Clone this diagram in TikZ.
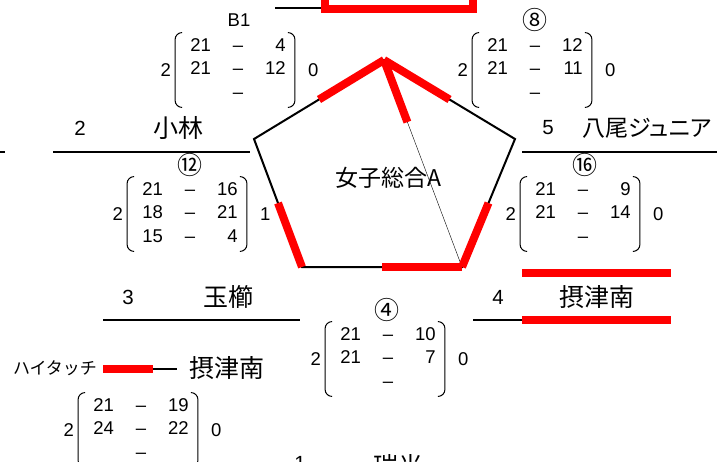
\documentclass[tikz,border=0pt]{standalone}
\usepackage{fontspec}
\setmainfont{Liberation Sans}
\newfontfamily\jp{Noto Sans CJK JP}
\newfontfamily\jpp[RawFeature=+palt]{Noto Sans CJK JP}
\usetikzlibrary{positioning,calc}

\newcommand\scorefont{\fontsize{18.5}{23.5}\selectfont}
\newcommand\games[6]{%
  \begin{tabular}{@{\hspace{15pt}}c@{\hspace{22pt}}c@{\hspace{22pt}}r@{\hspace{9pt}}}
    #1 & – & #2\\ #3 & – & #4\\ #5 & – & #6
  \end{tabular}}
\newcommand\parens[1]{%
  \draw[paren] ([xshift=7pt]#1.north west) -- (#1.north west) -- (#1.south west) -- ([xshift=7pt]#1.south west)
               ([xshift=-7pt]#1.north east) -- (#1.north east) -- (#1.south east) -- ([xshift=-7pt]#1.south east);}

\tikzset{
  every node/.style={inner sep=0pt},
  games/.style={inner xsep=0pt, inner ysep=2pt, font=\scorefont},
  side/.style={font=\scorefont},
  tag/.style={font=\jp\fontsize{25}{28}\selectfont},
  num/.style={font=\fontsize{20.5}{24}\selectfont},
  team/.style={font=\jp\fontsize{25}{30}\selectfont},
  paren/.style={line width=1pt, rounded corners=7pt},
  line/.style={line width=2.6pt},
  edge/.style={line width=2pt},
  win/.style={red, line width=8pt},
}

\begin{document}
\begin{tikzpicture}[x=1pt, y=-1pt]
    \useasboundingbox (0,0) rectangle (717,461);
%    \draw[help lines,step=50] (0,0) grid (717,461);
    % pentagon
    \coordinate (v1) at (384,60);
    \coordinate (v2) at (515,139);
    \coordinate (v3) at (462,267);
    \coordinate (v4) at (302,267);
    \coordinate (v5) at (254,139);
    \draw[edge] (v1) -- (v2) -- (v3) -- (v4) -- (v5) -- cycle;
    \draw[thin] (v1) -- (v3);
    \draw[win] (v1) -- ($(v1)!.5!(v5)$);
    \draw[win] (v1) -- ($(v1)!.5!(v2)$);
    \draw[win] (v1) -- ($(v1)!.3!(v3)$);
    \draw[win] ($(v5)!.5!(v4)$) -- (v4);
    \draw[win] ($(v4)!.5!(v3)$) -- (v3);
    \draw[win] (v3) -- ($(v3)!.5!(v2)$);
    \node(title) at (388,178) {\jp\fontsize{23}{26}\selectfont 女子総合A};

    % teams
    \draw[line] (275,8) -- (325,8);
    \draw[win]  (325,-20) -- (325,9) -- (473,9) -- (473,-20);
    \draw[line] (-5,152) -- (5,152);
    \node[num]  (n2) at (80,128)  {2};
    \node[team] (t2) at (178,128) {小林};
    \draw[line] (53,152) -- (250,152);
    \node[num]  (n5) at (548,128) {5};
    \node[team] (t5) at (647,128) {\jpp\fontsize{23}{28}\selectfont 八尾ジュニア};
    \draw[line] (522,152) -- (720,152);
    \node[num]  (n3) at (128,297) {3};
    \node[team] (t3) at (228,297) {玉櫛};
    \draw[line] (103,320) -- (300,320);
    \node[num]  (n4) at (498,297) {4};
    \node[team] (t4) at (597,297) {摂津南};
    \draw[line] (473,320) -- (522,320);
    \draw[win]  (522,320) -- (671,320);
    \draw[win]  (522,273) -- (671,273);
    \node[num]  (n1) at (300,463) {1};
    \node[team] (t1) at (398,466) {瑞光};

    % legend
    \node(legend) at (55,368) {\jp\fontsize{17}{20}\selectfont ハイタッチ};
    \draw[win]  (103,369) -- (153,369);
    \draw[line] (153,369) -- (177,369);
    \node[team] (legwin) at (227,368) {摂津南};

    % scores
    \node[games] (b1) at (235,70) {\games{21}{4}{21}{12}{}{}};
    \node[side,left=4pt of b1]   (b1w) {2};
    \node[side,right=13pt of b1] (b1l) {0};
    \node (b1t) at (239,20) {\scorefont B1};
    \parens{b1}
    \node[games] (g8) at (532,70) {\games{21}{12}{21}{11}{}{}};
    \node[side,left=4pt of g8]   (g8w) {2};
    \node[side,right=13pt of g8] (g8l) {0};
    \node[tag] (g8t) at (535,20) {⑧};
    \parens{g8}
    \node[games] (g12) at (187,214) {\games{21}{16}{18}{21}{15}{4}};
    \node[side,left=4pt of g12]   (g12w) {2};
    \node[side,right=13pt of g12] (g12l) {1};
    \node[tag] (g12t) at (190,165) {⑫};
    \parens{g12}
    \node[games] (g16) at (580,214) {\games{21}{9}{21}{14}{}{}};
    \node[side,left=4pt of g16]   (g16w) {2};
    \node[side,right=13pt of g16] (g16l) {0};
    \node[tag] (g16t) at (585,165) {⑯};
    \parens{g16}
    \node[games] (g4) at (385,359) {\games{21}{10}{21}{7}{}{}};
    \node[side,left=4pt of g4]   (g4w) {2};
    \node[side,right=13pt of g4] (g4l) {0};
    \node[tag] (g4t) at (387,310) {④};
    \parens{g4}
    \node[games] (gx) at (138,430) {\games{21}{19}{24}{22}{}{}};
    \node[side,left=4pt of gx]   (gxw) {2};
    \node[side,right=13pt of gx] (gxl) {0};
    \parens{gx}
\end{tikzpicture}
\end{document}
